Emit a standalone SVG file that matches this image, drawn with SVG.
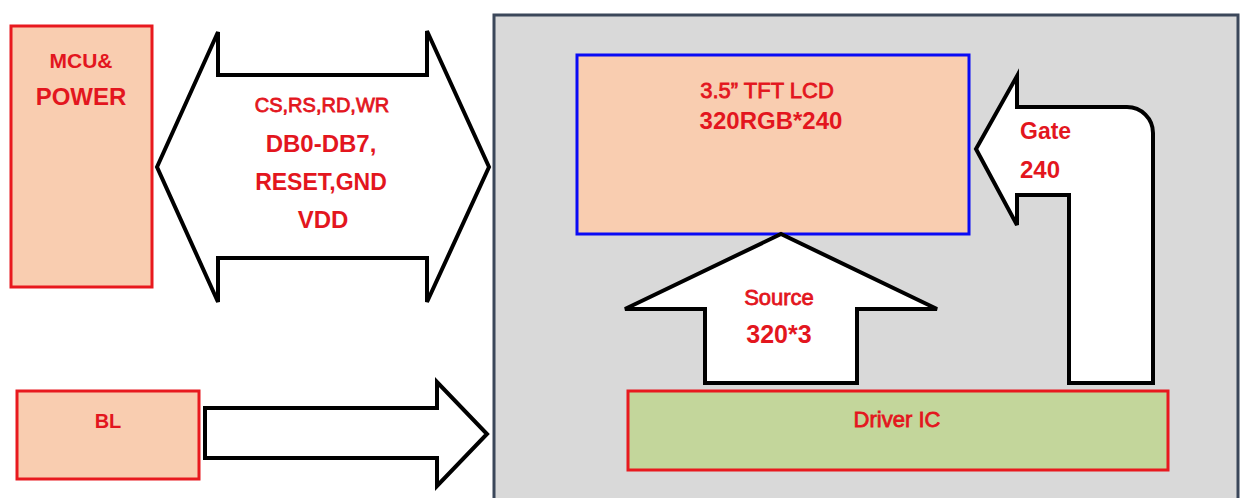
<svg xmlns="http://www.w3.org/2000/svg" width="1242" height="498" viewBox="0 0 1242 498">
<style>
.bg{fill:#ffffff}
.peach{fill:#F9CDB0;stroke:#E8191E;stroke-width:3}
.lcd{fill:#F9CDB0;stroke:#0A0AF5;stroke-width:3}
.ic{fill:#C3D69B;stroke:#E8191E;stroke-width:3}
.panel{fill:#D9D9D9;stroke:#3B475A;stroke-width:3}
.arrow{fill:#ffffff;stroke:#000000;stroke-width:4;stroke-linejoin:miter}
text{font-family:"Liberation Sans",Arial,sans-serif;fill:#E3161E}
.r{font-weight:normal;stroke:#E3161E;stroke-width:0.8}
.b{font-weight:bold}
.c{text-anchor:middle}
</style>
<rect class="bg" x="0" y="0" width="1242" height="498"/>
<g id="module">
<rect class="panel" x="494" y="15" width="744" height="495"/>
</g>
<g id="mcu-power">
<rect class="peach" x="11" y="26" width="141" height="261"/>
<text class="b c" x="81" y="68" font-size="21">MCU&amp;</text>
<text class="b c" x="81" y="105" font-size="24">POWER</text>
</g>
<g id="bl">
<rect class="peach" x="17" y="391" width="182" height="88"/>
<text class="b c" x="108" y="428" font-size="20">BL</text>
</g>
<g id="lcd">
<rect class="lcd" x="577" y="55" width="392" height="179"/>
<text class="r c" x="767" y="98" font-size="22">3.5” TFT LCD</text>
<text class="b c" x="771" y="129" font-size="24">320RGB*240</text>
</g>
<g id="driver-ic">
<rect class="ic" x="628" y="391" width="540" height="79"/>
<text class="r c" x="897" y="427" font-size="22">Driver IC</text>
</g>
<g id="connectors">
<path id="bus" class="arrow" d="M157,167 L218,32 L218,75 L427,75 L427,31 L489,167 L427,302 L427,258 L218,258 L218,302 Z"/>
<path id="bl-arrow" class="arrow" d="M205,408 L437,408 L437,382 L487,434 L437,486 L437,458 L205,458 Z"/>
<path id="source-arrow" class="arrow" d="M781,234 L937,309 L857,309 L857,383 L705,383 L705,309 L625,309 Z"/>
<path id="gate-arrow" class="arrow" d="M976,149 L1017,76 L1017,107 L1127,107 A26,26 0 0 1 1153,133 L1153,383 L1069,383 L1069,195 L1017,195 L1017,225 Z"/>
<text class="r c" x="322" y="112" font-size="20">CS,RS,RD,WR</text>
<text class="b c" x="321" y="152" font-size="24">DB0-DB7,</text>
<text class="b c" x="321" y="190" font-size="23">RESET,GND</text>
<text class="b c" x="323" y="228" font-size="24">VDD</text>
<text class="r c" x="779" y="305" font-size="22">Source</text>
<text class="b c" x="779" y="343" font-size="25">320*3</text>
<text class="b" x="1020" y="139" font-size="23">Gate</text>
<text class="b" x="1020" y="178" font-size="24">240</text>
</g>
</svg>
